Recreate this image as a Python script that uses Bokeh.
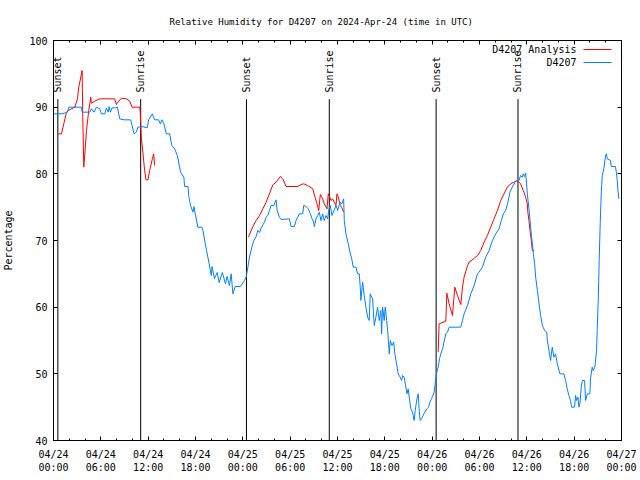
import math
from bokeh.plotting import figure
from bokeh.models import Range1d, LinearAxis, FixedTicker, Label, Arrow
from bokeh.core.properties import value
from bokeh.embed import file_html
from bokeh.resources import INLINE

# ---- data (hours since 2024-04-24 00:00 UTC) ----
obs_hours = [0.0, 1.1, 1.77, 1.94, 3.54, 3.63, 4.6, 4.8, 5.14, 5.44, 5.86, 6.07, 6.5, 6.7, 6.95, 7.05,
             7.21, 7.42, 7.85, 8.1, 8.39, 8.94, 9.78, 9.96, 10.21, 10.5, 10.71, 11.22, 11.89, 12.06, 12.53,
             12.82, 13.33, 13.54, 13.75, 14.0, 14.3, 14.72, 15.0, 15.35, 15.7, 15.86, 16.11, 16.53, 16.61,
             17.04, 17.17, 17.37, 17.68, 17.8, 17.97, 18.18, 18.3, 18.81, 18.94, 19.4, 19.7, 20.0, 20.1,
             20.4, 20.75, 21.0, 21.4, 21.8, 22.0, 22.3, 22.52, 22.74, 23.03, 23.7, 24.21, 24.42, 24.64,
             24.84, 25.14, 25.4, 25.69, 25.9, 26.12, 26.32, 26.74, 26.95, 27.17, 27.37, 27.58, 27.93, 28.09,
             28.22, 28.35, 28.64, 28.85, 29.9, 30.11, 30.53, 30.75, 30.96, 31.17, 31.6, 31.72, 32.01, 32.3,
             32.56, 32.77, 32.98, 33.06, 33.28, 33.49, 33.69, 33.9, 34.12, 34.32, 34.54, 34.75, 34.88, 35.08,
             35.3, 35.59, 35.81, 36.02, 36.31, 36.56, 36.78, 36.86, 37.07, 37.37, 37.58, 37.8, 38.0, 38.34,
             38.55, 38.76, 38.88, 38.97, 39.18, 39.39, 39.6, 39.82, 40.02, 40.15, 40.45, 40.66, 40.87, 41.08,
             41.29, 41.5, 41.59, 41.72, 41.92, 42.05, 42.23, 42.36, 42.56, 42.69, 42.9, 43.12, 43.27, 43.49,
             43.69, 43.95, 44.12, 44.25, 44.45, 44.67, 44.8, 44.96, 45.09, 45.3, 45.51, 45.72, 45.85, 46.07,
             46.23, 46.36, 46.48, 46.66, 46.99, 47.33, 47.55, 47.71, 47.92, 48.04, 48.25, 48.38, 48.46, 48.59,
             48.76, 48.93, 49.1, 49.32, 49.52, 49.73, 49.95, 50.15, 51.63, 51.84, 52.05, 52.48, 52.9, 53.32,
             53.74, 53.95, 54.37, 54.79, 55.21, 55.64, 56.05, 56.47, 56.77, 57.03, 57.32, 57.61, 57.86, 58.16,
             58.58, 59.0, 59.21, 59.43, 59.55, 59.72, 59.85, 59.97, 60.06, 60.27, 60.48, 60.7, 60.83, 60.99,
             61.12, 61.34, 61.55, 61.75, 61.97, 62.26, 62.52, 62.6, 62.8, 63.01, 63.22, 63.43, 63.64, 63.86,
             64.19, 64.7, 64.91, 65.12, 65.33, 65.54, 65.67, 66.05, 66.18, 66.31, 66.48, 66.6, 66.73, 66.9,
             67.03, 67.32, 67.45, 67.66, 67.99, 68.07, 68.29, 68.41, 68.62, 68.84, 68.92, 69.05, 69.17, 69.3,
             69.43, 69.56, 69.76, 69.98, 70.1, 70.19, 70.61, 70.7, 71.24, 71.37, 71.46, 71.55, 71.67]
obs_rh = [89.0, 89.0, 89.25, 90.0, 90.0, 89.25, 89.25, 89.75, 89.25, 90.0, 89.75, 89.0, 89.0, 89.85, 89.25, 90.1,
          89.25, 89.9, 89.9, 90.0, 88.25, 88.1, 88.1, 87.25, 86.0, 86.25, 87.0, 87.1, 86.9, 88.1, 89.0,
          88.1, 88.1, 87.5, 88.1, 87.5, 86.0, 86.0, 84.25, 83.75, 82.75, 81.75, 80.25, 79.5, 78.1,
          78.1, 76.5, 75.25, 74.25, 75.1, 74.0, 72.75, 72.0, 72.0, 71.5, 68.5, 66.7, 64.75, 66.1,
          64.3, 65.2, 63.7, 65.2, 63.5, 64.6, 63.25, 65.0, 62.0, 63.1, 63.1, 64.0, 64.5, 66.0,
          67.5, 69.0, 70.0, 70.6, 71.5, 71.2, 71.9, 72.75, 73.5, 73.75, 74.5, 75.25, 75.25, 75.75,
          76.1, 74.5, 73.5, 73.15, 73.25, 72.1, 72.1, 73.0, 73.5, 74.0, 74.0, 75.25, 75.1, 74.75,
          74.0, 73.25, 72.75, 72.1, 73.25, 73.75, 74.25, 73.0, 74.0, 73.0, 73.75, 73.25, 74.5, 75.25,
          73.75, 74.6, 75.25, 74.5, 75.75, 75.5, 76.25, 73.0, 71.0, 69.5, 68.25, 67.25, 66.0, 66.0,
          65.0, 65.0, 63.0, 61.0, 63.75, 61.75, 60.0, 58.5, 58.0, 62.0, 61.25, 57.25, 58.5, 60.0,
          58.0, 59.5, 56.0, 60.0, 58.0, 60.0, 58.0, 56.5, 53.0, 55.0, 54.25, 54.75, 53.0, 51.5,
          50.0, 49.5, 49.0, 49.75, 49.5, 48.0, 47.0, 47.75, 46.5, 44.75, 44.25, 43.0, 44.5, 46.25,
          47.0, 44.5, 43.0, 43.25, 44.1, 44.75, 45.0, 45.75, 46.25, 46.6, 47.25, 48.5, 49.25, 50.25,
          51.0, 52.25, 53.0, 53.75, 54.9, 56.0, 56.25, 57.0, 57.0, 58.0, 59.0, 60.25, 62.0, 63.25,
          65.0, 65.25, 66.0, 67.5, 68.5, 70.0, 71.0, 71.75, 73.0, 74.0, 74.5, 75.75, 77.25, 78.0,
          78.9, 79.0, 79.75, 79.5, 80.0, 79.6, 80.1, 78.5, 77.0, 74.75, 72.0, 69.5, 68.0, 66.5,
          64.5, 62.5, 60.5, 58.75, 57.25, 56.5, 56.25, 55.0, 53.5, 52.0, 54.0, 52.5, 53.0, 51.5,
          50.0, 50.0, 49.0, 47.75, 46.75, 46.0, 45.0, 45.0, 46.75, 46.0, 46.5, 45.0, 45.5, 48.0,
          49.0, 49.0, 46.0, 47.0, 47.0, 49.25, 51.0, 50.5, 51.0, 53.5, 56.5, 61.0, 67.0, 72.5,
          77.0, 79.75, 80.75, 82.75, 83.0, 82.25, 82.0, 81.1, 81.1, 80.0, 79.0, 77.5, 76.25]

nan = float("nan")
ana_hours = [0.59, 1.01, 1.65, 1.86, 2.7, 3.04, 3.2, 3.46, 3.63, 3.71, 3.84, 3.97, 4.18, 4.47, 4.72, 4.8,
             5.23, 5.86, 7.76, 7.97, 8.27, 8.6, 9.24, 9.66, 9.96, 10.92, 11.0, 11.13, 11.35, 11.55, 11.73,
             11.98, 12.19, 12.53, 12.7, 12.82,
             18.0,
             24.72, 24.97, 25.27, 25.69, 26.12, 26.54, 26.95, 27.37, 27.8, 28.22, 28.76, 29.06, 29.48,
             30.96, 31.38, 31.72, 32.22, 32.86, 33.15, 33.4, 33.62, 33.82, 34.12, 34.32, 34.67, 34.83,
             35.01, 35.18, 35.38, 35.59, 35.81, 35.93, 36.1, 36.36, 36.56, 36.78,
             42.0,
             48.76, 48.88, 49.73, 49.86, 50.15, 50.57, 50.87, 51.21, 51.63, 51.84, 52.05, 52.48, 52.69,
             53.23, 53.74, 54.16, 54.58, 55.0, 55.42, 55.84, 56.27, 56.69, 57.11, 57.53, 57.95, 58.37,
             58.8, 59.21, 59.55, 59.85, 60.06, 60.13, 60.27, 60.4, 60.57, 60.7, 60.9]
ana_rh = [86.0, 86.0, 89.25, 89.5, 90.0, 91.25, 93.0, 94.5, 95.5, 88.5, 81.0, 83.0, 86.5, 89.5, 91.5, 90.6,
          90.9, 91.25, 91.25, 90.4, 90.9, 91.35, 91.25, 90.9, 90.0, 90.0, 89.25, 85.5, 83.0, 80.5, 79.1,
          79.1, 80.5, 82.25, 83.0, 81.25,
          nan,
          70.5, 71.25, 72.1, 73.0, 73.75, 74.75, 75.75, 77.0, 78.35, 78.75, 79.6, 79.25, 78.1,
          78.1, 78.4, 78.5, 78.25, 77.75, 76.5, 75.5, 74.5, 76.9, 76.25, 75.5, 74.75, 77.0,
          76.5, 76.0, 76.25, 75.75, 75.25, 77.0, 76.5, 75.25, 74.9, 74.25,
          nan,
          53.25, 57.5, 57.9, 62.1, 60.5, 58.75, 63.0, 61.75, 60.4, 63.0, 64.5, 66.25, 66.75,
          67.25, 67.75, 68.5, 69.75, 70.75, 72.0, 73.25, 74.5, 76.0, 77.0, 78.0, 78.5, 78.75,
          79.0, 78.5, 77.5, 76.5, 75.5, 74.25, 73.0, 71.5, 70.0, 68.5, 68.5]

event_hours = [0.55, 11.05, 24.46, 34.96, 48.5, 58.88]
event_names = ["Sunset", "Sunrise", "Sunset", "Sunrise", "Sunset", "Sunrise"]

x_ticks = [0, 6, 12, 18, 24, 30, 36, 42, 48, 54, 60, 66, 72]
x_minor = [h for h in range(0, 73, 2)]
x_labels = ["04/24\n00:00", "04/24\n06:00", "04/24\n12:00", "04/24\n18:00",
            "04/25\n00:00", "04/25\n06:00", "04/25\n12:00", "04/25\n18:00",
            "04/26\n00:00", "04/26\n06:00", "04/26\n12:00", "04/26\n18:00",
            "04/27\n00:00"]
y_ticks = [40, 50, 60, 70, 80, 90, 100]

FONT = "DejaVu Sans Mono"
FS = "10px"
RED = "#ff0000"
BLUE = "#0080ff"

p = figure(width=640, height=480, output_backend="svg", toolbar_location=None,
           x_range=Range1d(0, 72), y_range=Range1d(40, 100),
           min_border_left=52, min_border_right=19, min_border_top=40, min_border_bottom=40,
           title="Relative Humidity for D4207 on 2024-Apr-24 (time in UTC)")
p.title.text_font = FONT
p.title.text_font_size = "9px"
p.title.text_font_style = "normal"
p.title.text_color = "black"
p.title.align = "left"
p.title.offset = 116
p.title.standoff = 27
p.grid.visible = False
p.outline_line_color = "black"
p.background_fill_color = "white"
p.border_fill_color = "white"

def style_axis(ax, ticks, minor, labels=None, show_labels=True):
    ax.ticker = FixedTicker(ticks=ticks, minor_ticks=minor)
    ax.axis_line_color = "black"
    ax.major_tick_in = 4
    ax.major_tick_out = 0
    ax.minor_tick_in = 2
    ax.minor_tick_out = 0
    ax.major_tick_line_color = "black"
    ax.minor_tick_line_color = "black"
    ax.major_label_text_font = FONT
    ax.major_label_text_font_size = FS
    ax.major_label_text_color = "black"
    if labels is not None:
        ax.major_label_overrides = {t: l for t, l in zip(ticks, labels)}
    if not show_labels:
        ax.major_label_overrides = {t: "" for t in ticks}
        ax.major_label_standoff = 0

style_axis(p.xaxis[0], x_ticks, x_minor, x_labels)
p.xaxis[0].major_label_standoff = 8
style_axis(p.yaxis[0], y_ticks, [])
p.yaxis[0].major_label_standoff = 6
p.yaxis[0].axis_label = "Percentage"
p.yaxis[0].axis_label_text_font = FONT
p.yaxis[0].axis_label_text_font_size = FS
p.yaxis[0].axis_label_text_font_style = "normal"
p.yaxis[0].axis_label_text_color = "black"
p.yaxis[0].axis_label_standoff = 12

top = LinearAxis()
style_axis(top, x_ticks, x_minor, show_labels=False)
p.add_layout(top, "above")
right = LinearAxis()
style_axis(right, y_ticks, [], show_labels=False)
p.add_layout(right, "right")

# sunrise / sunset markers
p.segment(x0=event_hours, y0=40, x1=event_hours, y1=91.2, line_color="black", line_width=1)
p.text(x=event_hours, y=92.2, text=event_names, angle=math.pi / 2, text_align="left",
       text_baseline="middle", text_font=value(FONT), text_font_size=FS, text_color="black")

# series
p.line(ana_hours, ana_rh, line_color=RED, line_width=1)
p.line(obs_hours, obs_rh, line_color=BLUE, line_width=1)

# legend (gnuplot style: text then sample on the right)
for i, (name, col) in enumerate([("D4207 Analysis", RED), ("D4207", BLUE)]):
    yy = 391 - 13 * i
    p.add_layout(Label(x=523, y=yy, x_units="screen", y_units="screen", text=name,
                       text_align="right", text_baseline="middle",
                       text_font=FONT, text_font_size=FS, text_color="black"))
    p.add_layout(Arrow(x_start=530, y_start=yy, x_end=558, y_end=yy,
                       start_units="screen", end_units="screen", start=None, end=None,
                       line_color=col, line_width=1))

open("out.html", "w").write(file_html(p, INLINE))
